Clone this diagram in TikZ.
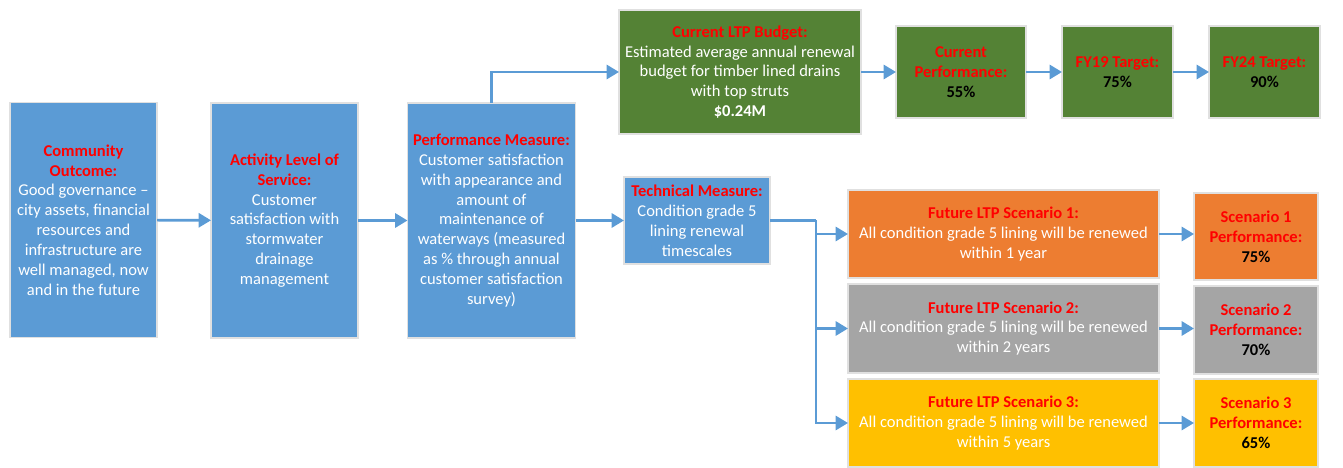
\documentclass[tikz,border=0pt]{standalone}
\usepackage{fontspec}
\setmainfont{Carlito}
\usetikzlibrary{arrows.meta}

\definecolor{lvlblue}{HTML}{5B9BD5}
\definecolor{ltpgreen}{HTML}{548235}
\definecolor{scnorange}{HTML}{ED7D31}
\definecolor{scngray}{HTML}{A5A5A5}
\definecolor{scnyellow}{HTML}{FFC000}
\definecolor{hdred}{HTML}{FF0000}

\newcommand{\hd}[1]{{\color{hdred}\bfseries #1}}
\newcommand{\val}[1]{{\color{black}\bfseries #1}}

\begin{document}
\begin{tikzpicture}[
	box/.style={draw=black!12, line width=0.6pt, text=white, align=center, inner sep=1pt, outer sep=0pt,
		font=\fontsize{9.4}{11.3}\selectfont},
	bluebox/.style={box, fill=lvlblue},
	greenbox/.style={box, fill=ltpgreen},
	arr/.style={draw=lvlblue, line width=1.5pt, -{Triangle[length=7pt,width=8pt]}},
	link/.style={draw=lvlblue, line width=1.5pt}]
	\useasboundingbox (0,0) rectangle (26.86,-9.36);
	\node[bluebox, minimum width=2.94cm, minimum height=4.70cm] (co) at (1.67,-4.40)
		{\hd{Community}\\\hd{Outcome:}\\Good governance –\\city assets, financial\\resources and\\infrastructure are\\well managed, now\\and in the future};
	\node[bluebox, minimum width=2.94cm, minimum height=4.70cm] (als) at (5.69,-4.41)
		{\hd{Activity Level of}\\\hd{Service:}\\Customer\\satisfaction with\\stormwater\\drainage\\management};
	\node[bluebox, minimum width=3.36cm, minimum height=4.70cm] (pm) at (9.83,-4.41)
		{\hd{Performance Measure:}\\Customer satisfaction\\with appearance and\\amount of\\maintenance of\\waterways (measured\\as \% through annual\\customer satisfaction\\survey)};
	\node[greenbox, minimum width=4.84cm, minimum height=2.48cm] (bud) at (14.80,-1.44)
		{\hd{Current LTP Budget:}\\Estimated average annual renewal\\budget for timber lined drains\\with top struts\\\textbf{\$0.24M}};
	\node[bluebox, minimum width=2.92cm, minimum height=1.74cm] (tm) at (13.94,-4.41)
		{\hd{Technical Measure:}\\Condition grade 5\\lining renewal\\timescales};
	\node[greenbox, minimum width=2.60cm, minimum height=1.84cm] (cp) at (19.22,-1.44)
		{\hd{Current}\\\hd{Performance:}\\\val{55\%}};
	\node[greenbox, minimum width=2.22cm, minimum height=1.84cm] (fy19) at (22.35,-1.44)
		{\hd{FY19 Target:}\\\val{75\%}};
	\node[greenbox, minimum width=2.22cm, minimum height=1.84cm] (fy24) at (25.29,-1.44)
		{\hd{FY24 Target:}\\\val{90\%}};
	\node[box, fill=scnorange, minimum width=6.22cm, minimum height=1.76cm] (s1) at (20.07,-4.68)
		{\hd{Future LTP Scenario 1:}\\All condition grade 5 lining will be renewed\\within 1 year};
	\node[box, fill=scngray, minimum width=6.22cm, minimum height=1.78cm] (s2) at (20.07,-6.57)
		{\hd{Future LTP Scenario 2:}\\All condition grade 5 lining will be renewed\\within 2 years};
	\node[box, fill=scnyellow, minimum width=6.22cm, minimum height=1.76cm] (s3) at (20.07,-8.46)
		{\hd{Future LTP Scenario 3:}\\All condition grade 5 lining will be renewed\\within 5 years};
	\node[box, fill=scnorange, minimum width=2.48cm, minimum height=1.74cm] (p1) at (25.12,-4.73)
		{\hd{Scenario 1}\\\hd{Performance:}\\\val{75\%}};
	\node[box, fill=scngray, minimum width=2.48cm, minimum height=1.76cm] (p2) at (25.12,-6.60)
		{\hd{Scenario 2}\\\hd{Performance:}\\\val{70\%}};
	\node[box, fill=scnyellow, minimum width=2.48cm, minimum height=1.76cm] (p3) at (25.12,-8.46)
		{\hd{Scenario 3}\\\hd{Performance:}\\\val{65\%}};
	\coordinate (fork) at (16.32,-4.41);
	\draw[arr] (co) -- (als);
	\draw[arr] (als) -- (pm);
	\draw[arr] (pm) -- (tm);
	\draw[arr] (pm.north) |- (bud.west);
	\draw[arr] (bud) -- (cp);
	\draw[arr] (cp) -- (fy19);
	\draw[arr] (fy19) -- (fy24);
	\draw[link] (tm.east) -- (fork);
	\foreach \s in {s1,s2,s3}
		\draw[arr] (fork) |- (\s.west);
	\draw[arr] (s1.east) -- (p1.west |- s1.east);
	\draw[arr] (s2.east) -- (p2.west |- s2.east);
	\draw[arr] (s3.east) -- (p3.west |- s3.east);
\end{tikzpicture}
\end{document}
